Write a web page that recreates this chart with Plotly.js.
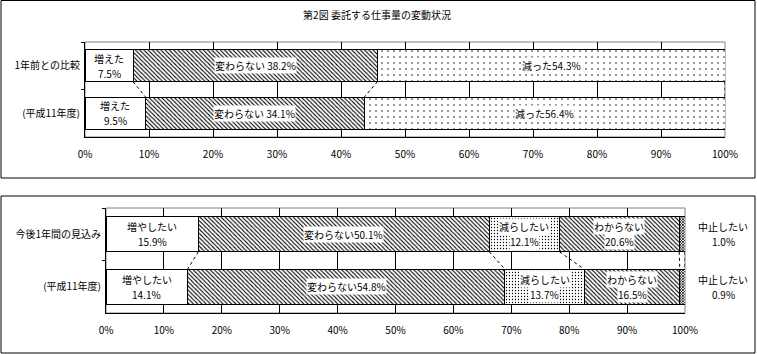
<!DOCTYPE html>
<html><head><meta charset="utf-8">
<script src="https://cdn.plot.ly/plotly-3.0.1.min.js"></script>
<style>html,body{margin:0;padding:0;background:#fff;}#chart{width:757px;height:354px;}</style>
</head><body><div id="chart"></div>
<script>
// ---- data ----
const topCategories = ['1年前との比較', '(平成11年度)'];
const topSeriesNames = ['増えた', '変わらない', '減った'];
const topIncrease = [7.5, 9.5];
const topSame = [38.2, 34.1];
const topDecrease = [54.3, 56.4];

const bottomCategories = ['今後1年間の見込み', '(平成11年度)'];
const bottomSeriesNames = ['増やしたい', '変わらない', '減らしたい', 'わからない', '中止したい'];
const bottomIncrease = [15.9, 14.1];
const bottomSame = [50.1, 54.8];
const bottomDecrease = [12.1, 13.7];
const bottomUnknown = [20.6, 16.5];
const bottomStop = [1.0, 0.9];

const xTickValues = [0, 10, 20, 30, 40, 50, 60, 70, 80, 90, 100];
const xTickLabels = ['0%', '10%', '20%', '30%', '40%', '50%', '60%', '70%', '80%', '90%', '100%'];
const chartTitle = '第2図 委託する仕事量の変動状況';

// ---- styles ----
const FONT = '"Noto Sans CJK JP", "Noto Sans", sans-serif';
const BARW = 0.67;
const LINE_GAP = 7.5;
const topStyles = [
  {shape: ''},
  {shape: '\\', size: 3, solidity: 0.35},
  {shape: '.', size: 6, solidity: 0.05}
];
const topSep = ['br', ' ', ''];
const topLabelBg = [false, true, true];
const bottomStyles = [
  {shape: ''},
  {shape: '\\', size: 3, solidity: 0.35},
  {shape: '.', size: 3, solidity: 0.15},
  {shape: '\\', size: 3, solidity: 0.35},
  {shape: 'x', size: 2, solidity: 0.6}
];
const bottomSep = ['br', '', 'br', 'br', 'br'];
const bottomLabelBg = [false, true, true, true];

function labelAnno(xa, ya, x, y, text, bg, yshift) {
  return {xref: xa, yref: ya, x: x, y: y, text: text, yshift: yshift, showarrow: false,
    font: {family: FONT, size: 10, color: 'black'},
    bgcolor: bg ? 'white' : 'rgba(0,0,0,0)', borderpad: 0};
}

function buildPanel(cats, names, series, styles, seps, bgs, xa, ya, insideCount) {
  const traces = [], annos = [], shapes = [];
  names.forEach((n, i) => {
    const marker = {color: 'white', line: {color: 'black', width: 1}};
    if (styles[i].shape) {
      marker.pattern = {shape: styles[i].shape, fgcolor: 'black', bgcolor: 'white',
        size: styles[i].size, solidity: styles[i].solidity, fillmode: 'replace'};
    }
    traces.push({
      type: 'bar', orientation: 'h', name: n, y: cats, x: series[i],
      xaxis: xa, yaxis: ya, width: BARW, hoverinfo: 'skip', marker: marker
    });
  });
  const nRows = cats.length;
  const cum = [];
  for (let r = 0; r < nRows; r++) {
    const total = series.reduce((s, arr) => s + arr[r], 0);
    let acc = 0; const row = [];
    series.forEach((arr, i) => {
      const v = arr[r] / total * 100;
      if (i < insideCount) {
        const valText = arr[r].toFixed(1) + '%';
        const cx = acc + v / 2;
        if (seps[i] === 'br') {
          annos.push(labelAnno(xa, ya, cx, r, names[i], bgs[i], LINE_GAP));
          annos.push(labelAnno(xa, ya, cx, r, valText, bgs[i], -LINE_GAP));
        } else {
          annos.push(labelAnno(xa, ya, cx, r, names[i] + seps[i] + valText, bgs[i], 0));
        }
      }
      acc += v; row.push(acc);
    });
    cum.push(row);
  }
  for (let r = 0; r < nRows - 1; r++) {
    for (let k = 0; k < series.length; k++) {
      shapes.push({type: 'line', xref: xa, yref: ya, x0: cum[r][k], x1: cum[r + 1][k],
        y0: r + BARW / 2, y1: r + 1 - BARW / 2, line: {color: 'black', width: 1, dash: 'dot'}});
    }
  }
  return {traces, annos, shapes};
}

const panelTop = buildPanel(topCategories, topSeriesNames, [topIncrease, topSame, topDecrease],
  topStyles, topSep, topLabelBg, 'x', 'y', 3);
const panelBot = buildPanel(bottomCategories, bottomSeriesNames,
  [bottomIncrease, bottomSame, bottomDecrease, bottomUnknown, bottomStop],
  bottomStyles, bottomSep, bottomLabelBg, 'x2', 'y2', 4);

bottomCategories.forEach((c, r) => {
  panelBot.annos.push(Object.assign(labelAnno('paper', 'y2', 723 / 757, r, bottomSeriesNames[4], false, LINE_GAP), {xanchor: 'center'}));
  panelBot.annos.push(Object.assign(labelAnno('paper', 'y2', 723 / 757, r, bottomStop[r].toFixed(1) + '%', false, -LINE_GAP), {xanchor: 'center'}));
});

const W = 757, H = 354;
const xAxisBase = {range: [0, 100], tickvals: xTickValues, ticktext: xTickLabels, showgrid: true,
  gridcolor: 'black', gridwidth: 1, showline: true, linecolor: 'black', linewidth: 1, ticks: '',
  zeroline: false, fixedrange: true, tickfont: {family: FONT, size: 10, color: 'black'}, ticklabelstandoff: 8};
const yAxisBase = {type: 'category', autorange: 'reversed', showline: true, linecolor: 'black', linewidth: 1,
  ticks: 'outside', tickson: 'boundaries', ticklen: 3, tickcolor: 'black', showgrid: false, zeroline: false,
  fixedrange: true, tickfont: {family: FONT, size: 10, color: 'black'}, ticklabelstandoff: 2};

const frameShapes = [
  {type: 'rect', xref: 'x domain', yref: 'y domain', x0: 0, x1: 1, y0: 0, y1: 1, line: {color: '#808080', width: 1}, layer: 'below'},
  {type: 'rect', xref: 'x2 domain', yref: 'y2 domain', x0: 0, x1: 1, y0: 0, y1: 1, line: {color: '#808080', width: 1}, layer: 'below'},
  {type: 'rect', xref: 'paper', yref: 'paper', x0: 1 / W, x1: 755 / W, y0: 1 - 178 / H, y1: 1 - 0.5 / H, line: {color: 'black', width: 1}},
  {type: 'rect', xref: 'paper', yref: 'paper', x0: 1 / W, x1: 755 / W, y0: 1 - 353 / H, y1: 1 - 196 / H, line: {color: 'black', width: 1}}
];

const layout = {
  width: W, height: H, margin: {l: 0, r: 0, t: 0, b: 0},
  paper_bgcolor: 'white', plot_bgcolor: 'white', showlegend: false,
  barmode: 'stack', barnorm: 'percent',
  font: {family: FONT, size: 10, color: 'black'},
  title: {text: chartTitle, x: 377 / W, xanchor: 'center', xref: 'paper', y: 1 - 15 / H, yanchor: 'middle', yref: 'paper',
    font: {family: FONT, size: 10, color: 'black'}},
  xaxis: Object.assign({}, xAxisBase, {domain: [85 / W, 725 / W], anchor: 'y'}),
  yaxis: Object.assign({}, yAxisBase, {domain: [1 - 137 / H, 1 - 42 / H], anchor: 'x', categoryarray: topCategories, categoryorder: 'array'}),
  xaxis2: Object.assign({}, xAxisBase, {domain: [106 / W, 685 / W], anchor: 'y2'}),
  yaxis2: Object.assign({}, yAxisBase, {domain: [1 - 313 / H, 1 - 208 / H], anchor: 'x2', categoryarray: bottomCategories, categoryorder: 'array'}),
  shapes: frameShapes.concat(panelTop.shapes, panelBot.shapes),
  annotations: panelTop.annos.concat(panelBot.annos)
};

Plotly.newPlot('chart', panelTop.traces.concat(panelBot.traces), layout, {staticPlot: true, displayModeBar: false});
</script></body></html>
